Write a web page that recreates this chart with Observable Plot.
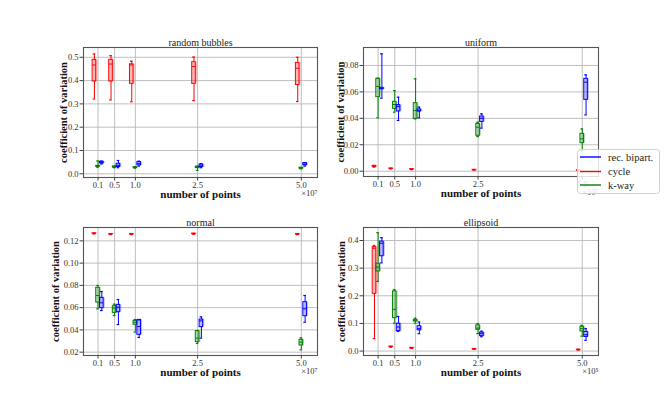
<!DOCTYPE html>
<html>
<head>
<meta charset="utf-8">
<script src="https://cdn.jsdelivr.net/npm/d3@7"></script>
<script src="https://cdn.jsdelivr.net/npm/@observablehq/plot@0.6"></script>
<style>
  html, body { margin: 0; padding: 0; background: #fff; }
  #root { position: relative; width: 664px; height: 399px; overflow: hidden; background: #fff; font-family: "Liberation Serif", "DejaVu Serif", serif; }
  #root > div.panel { position: absolute; }
  #root svg { overflow: visible; }
  #root svg text { font-family: "Liberation Serif", "DejaVu Serif", serif; }
  #legend { position: absolute; left: 577px; top: 149px; }
</style>
</head>
<body>
<div id="root"></div>
<script>
// ---- data ----
const xs = [0.1, 0.5, 1.0, 2.5, 5.0];
const seriesNames = ["rec. bipart.", "cycle", "k-way"];
const seriesColors = ["blue", "red", "green"];

// each entry: [low whisker, q1, median, q3, high whisker] at xs
const bubblesRec   = [[0.042,0.044,0.049,0.052,0.054],[0.026,0.029,0.036,0.043,0.057],[0.033,0.036,0.043,0.050,0.054],[0.026,0.029,0.034,0.040,0.043],[0.033,0.036,0.041,0.046,0.047]];
const bubblesCycle = [[0.321,0.396,0.467,0.489,0.514],[0.317,0.396,0.471,0.489,0.507],[0.309,0.386,0.467,0.470,0.483],[0.314,0.386,0.460,0.479,0.501],[0.310,0.381,0.453,0.476,0.500]];
const bubblesKway  = [[0.028,0.030,0.032,0.034,0.055],[0.026,0.027,0.029,0.031,0.033],[0.024,0.025,0.026,0.028,0.030],[0.014,0.024,0.027,0.030,0.033],[0.021,0.022,0.024,0.026,0.027]];

const uniformRec   = [[0.0553,0.0620,0.0626,0.0631,0.0888],[0.0384,0.0452,0.0490,0.0500,0.0560],[0.0404,0.0452,0.0457,0.0467,0.0485],[0.0326,0.0373,0.0401,0.0414,0.0434],[0.0426,0.0540,0.0674,0.0699,0.0729]];
const uniformCycle = [[0.0031,0.0034,0.0037,0.0041,0.0043],[0.0017,0.0018,0.0020,0.0021,0.0022],[0.0012,0.0013,0.0015,0.0016,0.0017],[0.0008,0.0009,0.0010,0.0011,0.0012],[0.0004,0.0005,0.0006,0.0007,0.0008]];
const uniformKway  = [[0.0404,0.0560,0.0641,0.0699,0.0704],[0.0447,0.0472,0.0505,0.0525,0.0610],[0.0396,0.0396,0.0459,0.0515,0.0699],[0.0262,0.0268,0.0333,0.0358,0.0371],[0.0156,0.0212,0.0245,0.0283,0.0320]];

const normalRec   = [[0.0574,0.0595,0.0643,0.0688,0.0745],[0.0448,0.0559,0.0604,0.0625,0.0673],[0.0332,0.0356,0.0430,0.0490,0.0490],[0.0326,0.0425,0.0481,0.0493,0.0517],[0.0469,0.0523,0.0589,0.0649,0.0709]];
const normalCycle = [[0.1262,0.1264,0.1266,0.1268,0.1270],[0.1256,0.1258,0.1260,0.1262,0.1264],[0.1256,0.1258,0.1260,0.1262,0.1264],[0.1259,0.1261,0.1263,0.1265,0.1267],[0.1256,0.1258,0.1260,0.1262,0.1264]];
const normalKway  = [[0.0589,0.0646,0.0709,0.0778,0.0799],[0.0529,0.0553,0.0595,0.0613,0.0631],[0.0380,0.0446,0.0469,0.0481,0.0493],[0.0278,0.0290,0.0326,0.0389,0.0395],[0.0221,0.0260,0.0290,0.0311,0.0329]];

const ellipsoidRec   = [[0.319,0.343,0.390,0.396,0.410],[0.071,0.072,0.087,0.099,0.125],[0.063,0.075,0.081,0.090,0.105],[0.052,0.054,0.063,0.067,0.072],[0.039,0.051,0.059,0.069,0.081]];
const ellipsoidCycle = [[0.045,0.207,0.372,0.376,0.382],[0.0140,0.0150,0.0157,0.0163,0.0170],[0.0095,0.0103,0.0110,0.0117,0.0125],[0.0060,0.0066,0.0072,0.0078,0.0084],[0.0036,0.0042,0.0048,0.0054,0.0060]];
const ellipsoidKway  = [[0.252,0.288,0.304,0.316,0.428],[0.101,0.119,0.151,0.216,0.222],[0.101,0.107,0.111,0.113,0.119],[0.063,0.077,0.083,0.093,0.099],[0.054,0.071,0.081,0.088,0.093]];

const panelTitles = ["random bubbles", "uniform", "normal", "ellipsoid"];
const panelExponents = ["×10⁷", "×10⁷", "×10⁷", "×10⁵"];
const yTicksBubbles = [0.0, 0.1, 0.2, 0.3, 0.4, 0.5];
const yTicksUniform = [0.00, 0.02, 0.04, 0.06, 0.08];
const yTicksNormal = [0.02, 0.04, 0.06, 0.08, 0.10, 0.12];
const yTicksEllipsoid = [0.0, 0.1, 0.2, 0.3, 0.4];

// ---- drawing ----
const FONT = '"Liberation Serif", "DejaVu Serif", serif';
const seriesDx = {"cycle": -3.6, "k-way": 0, "rec. bipart.": 3.8};

function rowsOf(stats) {
  return stats.map((s, i) => ({x: xs[i], lo: s[0], q1: s[1], med: s[2], q3: s[3], hi: s[4]}));
}

function boxMarks(stats, name) {
  const rows = rowsOf(stats);
  const c = seriesColors[seriesNames.indexOf(name)];
  const d = seriesDx[name];
  const hw = 1.8;
  return [
    Plot.rect(rows, {x1: "x", x2: "x", y1: "q1", y2: "q3", insetLeft: -hw - 0.6, insetRight: -hw - 0.6, fill: c, fillOpacity: 0.28, dx: d + 1}),
    Plot.ruleX(rows, {x: "x", y1: "lo", y2: "q1", stroke: c, strokeWidth: 1, dx: d}),
    Plot.ruleX(rows, {x: "x", y1: "q3", y2: "hi", stroke: c, strokeWidth: 1, dx: d}),
    Plot.rect(rows, {x1: "x", x2: "x", y1: "q1", y2: "q3", insetLeft: -hw, insetRight: -hw, fill: "none", stroke: c, strokeWidth: 1, dx: d}),
    Plot.ruleY(rows, {y: "med", x1: "x", x2: "x", insetLeft: -hw, insetRight: -hw, stroke: c, strokeWidth: 1, dx: d}),
    Plot.ruleY(rows, {y: "lo", x1: "x", x2: "x", insetLeft: -1.3, insetRight: -1.3, stroke: c, strokeWidth: 1.2, dx: d}),
    Plot.ruleY(rows, {y: "hi", x1: "x", x2: "x", insetLeft: -1.3, insetRight: -1.3, stroke: c, strokeWidth: 1.2, dx: d})
  ];
}

function panel(cfg) {
  const chart = Plot.plot({
    width: cfg.width, height: cfg.height,
    marginTop: cfg.mt, marginBottom: cfg.mb, marginLeft: cfg.ml, marginRight: cfg.mr,
    x: {domain: [-0.25, 5.39]},
    y: {domain: cfg.yDomain},
    style: {fontFamily: FONT, fontSize: "8.5px", color: "#333", background: "transparent", overflow: "visible"},
    marks: [
      Plot.gridX(xs, {stroke: "#b8b8b8", strokeOpacity: 1, strokeWidth: 0.9}),
      Plot.gridY(cfg.yTicks, {stroke: "#b8b8b8", strokeOpacity: 1, strokeWidth: 0.9}),
      ...boxMarks(cfg.cycle, "cycle"),
      ...boxMarks(cfg.kway, "k-way"),
      ...boxMarks(cfg.rec, "rec. bipart."),
      Plot.frame({stroke: "#555", strokeWidth: 1.1}),
      Plot.axisX(xs, {tickSize: 3.5, tickPadding: 0.5, tickFormat: d => d.toFixed(1), label: null, stroke: "#444", fontSize: 8.5}),
      Plot.axisY(cfg.yTicks, {tickSize: 3.5, tickPadding: 1.5, tickFormat: d3.format(cfg.yFmt), label: null, stroke: "#444", fontSize: 8.5}),
      Plot.text([cfg.title], {frameAnchor: "top", textAnchor: "middle", lineAnchor: "bottom", dy: -2, fontSize: 10, fill: "#222"}),
      Plot.text(["coefficient of variation"], {frameAnchor: "left", textAnchor: "middle", lineAnchor: "middle", dx: cfg.ylabDx, rotate: -90, fontSize: 10.5, fontWeight: "bold", fill: "#111"}),
      Plot.text(["number of points"], {frameAnchor: "bottom", textAnchor: "middle", lineAnchor: "middle", dy: 17, fontSize: 11, fontWeight: "bold", fill: "#111"}),
      Plot.text([cfg.exp], {frameAnchor: "bottom-right", textAnchor: "end", lineAnchor: "middle", dy: 16, fontSize: 8.5, fill: "#333"})
    ]
  });
  const div = document.createElement("div");
  div.className = "panel";
  div.style.left = cfg.left + "px";
  div.style.top = cfg.top + "px";
  div.appendChild(chart);
  document.getElementById("root").appendChild(div);
}

panel({title: panelTitles[0], exp: panelExponents[0], rec: bubblesRec, cycle: bubblesCycle, kway: bubblesKway,
  yDomain: [-0.016, 0.542], yTicks: yTicksBubbles, yFmt: ".1f",
  left: 0, top: 0, width: 332, height: 200, mt: 47, mb: 23, ml: 83, mr: 15, ylabDx: -20});
panel({title: panelTitles[1], exp: panelExponents[1], rec: uniformRec, cycle: uniformCycle, kway: uniformKway,
  yDomain: [-0.004, 0.0936], yTicks: yTicksUniform, yFmt: ".2f",
  left: 332, top: 0, width: 332, height: 200, mt: 47, mb: 24, ml: 31, mr: 66, ylabDx: -23});
panel({title: panelTitles[2], exp: panelExponents[2], rec: normalRec, cycle: normalCycle, kway: normalKway,
  yDomain: [0.017, 0.132], yTicks: yTicksNormal, yFmt: ".2f",
  left: 0, top: 200, width: 332, height: 199, mt: 27, mb: 44, ml: 83, mr: 15, ylabDx: -28});
panel({title: panelTitles[3], exp: panelExponents[3], rec: ellipsoidRec, cycle: ellipsoidCycle, kway: ellipsoidKway,
  yDomain: [-0.016, 0.447], yTicks: yTicksEllipsoid, yFmt: ".1f",
  left: 332, top: 200, width: 332, height: 199, mt: 27, mb: 44, ml: 31, mr: 66, ylabDx: -22});

// legend (plain SVG built with d3)
const legendDiv = d3.select("#root").append("div").attr("id", "legend");
const lsvg = legendDiv.append("svg").attr("width", 83).attr("height", 45);
lsvg.append("rect").attr("x", 0.5).attr("y", 0.5).attr("width", 82).attr("height", 44).attr("rx", 3)
  .attr("fill", "white").attr("fill-opacity", 0.82).attr("stroke", "#d0d0d0");
const rowY = [8, 22.5, 36];
seriesNames.forEach((n, i) => {
  lsvg.append("line").attr("x1", 3).attr("x2", 24).attr("y1", rowY[i]).attr("y2", rowY[i])
    .attr("stroke", seriesColors[i]).attr("stroke-width", 1.4);
  lsvg.append("text").attr("x", 31).attr("y", rowY[i]).attr("dy", "0.35em")
    .attr("font-size", 10.5).attr("fill", "#222").text(n);
});
</script>
</body>
</html>
